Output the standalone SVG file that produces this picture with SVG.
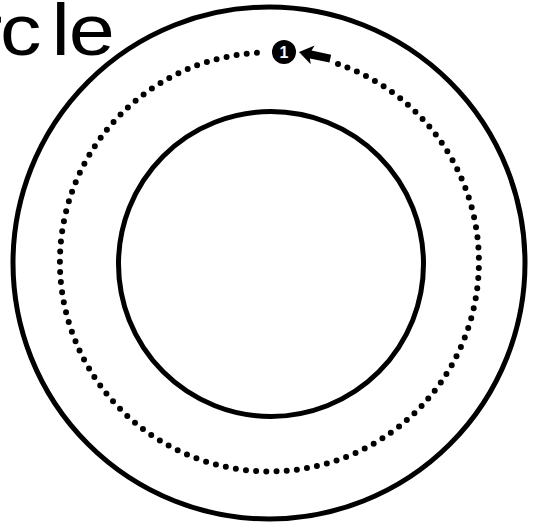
<svg xmlns="http://www.w3.org/2000/svg" width="540" height="529" viewBox="0 0 540 529">
  <style>
    .ring { fill: none; stroke: #000; stroke-width: 5; }
    .dots { fill: none; stroke: #000; stroke-width: 6; stroke-linecap: round; stroke-dasharray: 0 10.19; }
    .title { font-family: "Liberation Sans", Arial, sans-serif; font-size: 72px; fill: #000; }
    .badge-text { font-family: "Liberation Sans", Arial, sans-serif; font-size: 16px; font-weight: bold; fill: #fff; }
  </style>
  <rect width="540" height="529" fill="#fff"/>
  <g id="title">
    <text class="title" transform="scale(1.15,1)" x="-22 0 44.8 59.7" y="55">rcle</text>
  </g>
  <g id="outer-circle">
    <circle class="ring" cx="269" cy="263" r="256"/>
  </g>
  <g id="inner-circle">
    <circle class="ring" cx="271" cy="264" r="152.5"/>
  </g>
  <g id="connectors">
    <path class="dots" d="M 338 64 A 209.5 209.5 0 1 1 265 52.5"/>
    <polygon fill="#000" transform="translate(299,52) rotate(12)" points="0,0 14,-9.5 12,-4 32,-4 32,4 12,4 14,9.5"/>
  </g>
  <g id="badge-1">
    <circle cx="284" cy="52" r="12" fill="#000"/>
    <text class="badge-text" x="284" y="57.8" text-anchor="middle">1</text>
  </g>
</svg>
